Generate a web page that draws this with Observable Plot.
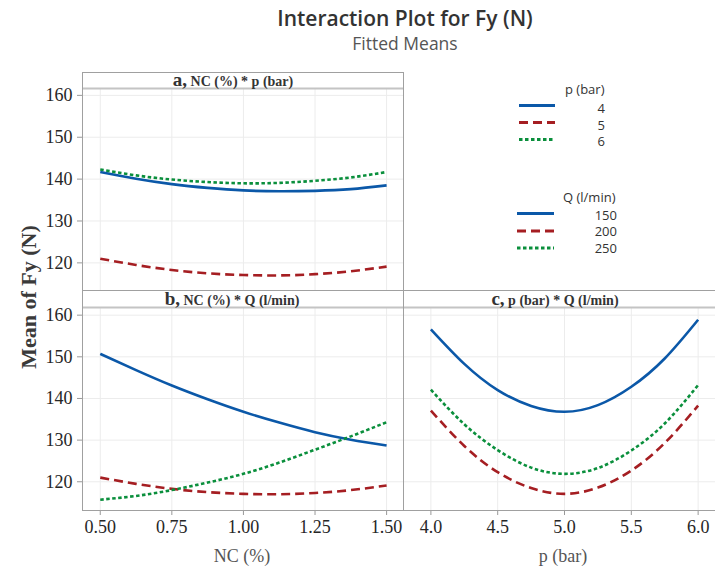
<!DOCTYPE html>
<html>
<head>
<meta charset="utf-8">
<script src="https://cdn.jsdelivr.net/npm/d3@7"></script>
<script src="https://cdn.jsdelivr.net/npm/@observablehq/plot@0.6"></script>
<style>
  html, body { margin: 0; padding: 0; background: #fff; }
  #chart { position: relative; width: 715px; height: 569px; overflow: hidden; background: #fff; }
  #chart svg { position: absolute; }
</style>
</head>
<body>
<div id="chart"></div>
<script>
// ---------------- data ----------------
const ncLevels = [0.5, 0.625, 0.75, 0.875, 1.0, 1.125, 1.25, 1.375, 1.5];
const pLevels  = [4.0, 4.25, 4.5, 4.75, 5.0, 5.25, 5.5, 5.75, 6.0];

// panel a: NC (%) * p (bar)
const a_p4 = [141.7, 140.1, 138.8, 137.9, 137.3, 137.1, 137.2, 137.6, 138.5];
const a_p5 = [121.0, 119.5, 118.3, 117.5, 117.1, 117.0, 117.3, 118.0, 119.1];
const a_p6 = [142.3, 140.9, 139.9, 139.3, 139.0, 139.1, 139.6, 140.4, 141.7];

// panel b: NC (%) * Q (l/min)
const b_q150 = [150.7, 146.8, 143.1, 139.8, 136.8, 134.2, 131.9, 130.1, 128.7];
const b_q200 = [121.0, 119.5, 118.3, 117.5, 117.1, 117.0, 117.3, 118.0, 119.1];
const b_q250 = [115.7, 116.6, 118.0, 119.8, 121.9, 124.6, 127.7, 130.9, 134.3];

// panel c: p (bar) * Q (l/min)
const c_q150 = [156.6, 148.3, 142.0, 138.2, 136.8, 138.4, 142.8, 149.6, 158.9];
const c_q200 = [137.1, 128.6, 122.3, 118.5, 117.1, 118.6, 122.7, 129.3, 138.3];
const c_q250 = [142.1, 133.8, 127.6, 123.4, 121.9, 123.3, 127.5, 134.0, 143.2];

const ncTicks = [0.5, 0.75, 1.0, 1.25, 1.5];
const pTicks  = [4.0, 4.5, 5.0, 5.5, 6.0];
const yTicks  = [120, 130, 140, 150, 160];

const pLegendTitle = "p (bar)";
const pLegendLabels = ["4", "5", "6"];
const qLegendTitle = "Q (l/min)";
const qLegendLabels = ["150", "200", "250"];

// ---------------- styles ----------------
const SERIF = "'Liberation Serif', 'Times New Roman', serif";
const SANS = "'Open Sans', 'Noto Sans', sans-serif";
const seriesStyles = [
  {color: "#0b58a8", dash: null},
  {color: "#a51e22", dash: "9,5"},
  {color: "#0a8f3c", dash: "3.5,2.5"}
];
const GRID = "#ececec";
const FRAME = "#a0a0a0";

const chart = document.getElementById("chart");

function lines(xs, seriesList) {
  return seriesList.map((vals, k) => Plot.line(
    xs.map((x, i) => ({x, y: vals[i]})),
    {x: "x", y: "y", stroke: seriesStyles[k].color, strokeWidth: 2.6,
     strokeDasharray: seriesStyles[k].dash, strokeLinecap: "butt", curve: "natural"}
  ));
}

const plotStyle = {fontFamily: SERIF, fontSize: "18px", color: "#262626", background: "none", overflow: "visible"};

function place(svg, left, top) {
  svg.style.left = left + "px";
  svg.style.top = top + "px";
  chart.appendChild(svg);
}

// Panel a
const pa = Plot.plot({
  width: 404, height: 218, marginLeft: 82, marginRight: 1, marginTop: 17, marginBottom: 0,
  x: {domain: [0.438, 1.559], axis: null},
  y: {domain: [113.4, 161.4], axis: null},
  style: plotStyle,
  marks: [
    Plot.gridX(ncTicks, {stroke: GRID, strokeOpacity: 1}),
    Plot.gridY(yTicks, {stroke: GRID, strokeOpacity: 1}),
    Plot.axisY(yTicks, {tickSize: 5, tickPadding: 5, label: null, stroke: "#999"}),
    ...lines(ncLevels, [a_p4, a_p5, a_p6])
  ]
});
place(pa, 0, 72);

// Panel b
const pb = Plot.plot({
  width: 404, height: 278, marginLeft: 82, marginRight: 1, marginTop: 17, marginBottom: 59,
  x: {domain: [0.438, 1.559], axis: null},
  y: {domain: [113.1, 161.6], axis: null},
  style: plotStyle,
  marks: [
    Plot.gridX(ncTicks, {stroke: GRID, strokeOpacity: 1}),
    Plot.gridY(yTicks, {stroke: GRID, strokeOpacity: 1}),
    Plot.axisY(yTicks, {tickSize: 5, tickPadding: 5, label: null, stroke: "#999"}),
    Plot.axisX(ncTicks, {tickSize: 5, tickPadding: 5, label: null, stroke: "#999", tickFormat: d3.format(".2f")}),
    ...lines(ncLevels, [b_q150, b_q200, b_q250])
  ]
});
place(pb, 0, 291);

// Panel c
const pc = Plot.plot({
  width: 312, height: 278, marginLeft: 0, marginRight: 0, marginTop: 17, marginBottom: 59,
  x: {domain: [3.795, 6.13], axis: null},
  y: {domain: [113.1, 161.6], axis: null},
  style: plotStyle,
  marks: [
    Plot.gridX(pTicks, {stroke: GRID, strokeOpacity: 1}),
    Plot.gridY(yTicks, {stroke: GRID, strokeOpacity: 1}),
    Plot.axisX(pTicks, {tickSize: 5, tickPadding: 5, label: null, stroke: "#999", tickFormat: d3.format(".1f")}),
    ...lines(pLevels, [c_q150, c_q200, c_q250])
  ]
});
place(pc, 403, 291);

// ---------------- overlay: frames, strips, titles, legend ----------------
const ov = d3.create("svg").attr("width", 715).attr("height", 569)
  .style("left", "0px").style("top", "0px").style("pointer-events", "none");

function hline(x1, x2, y, stroke, w) {
  ov.append("line").attr("x1", x1).attr("x2", x2).attr("y1", y).attr("y2", y)
    .attr("stroke", stroke).attr("stroke-width", w);
}
function vline(x, y1, y2, stroke, w) {
  ov.append("line").attr("x1", x).attr("x2", x).attr("y1", y1).attr("y2", y2)
    .attr("stroke", stroke).attr("stroke-width", w);
}
// frames
vline(82.5, 72, 510.5, FRAME, 1);
vline(403.5, 72, 510.5, FRAME, 1);
hline(82, 404, 72.5, FRAME, 1);
hline(82, 715, 290.5, FRAME, 1);
hline(82, 715, 510.5, FRAME, 1);
// strip bottoms
hline(83, 403, 88.5, "#c4c4c4", 2);
hline(83, 403, 307.5, "#c4c4c4", 2);
hline(404, 715, 307.5, "#c4c4c4", 2);

function strip(cx, y, letter, rest) {
  const t = ov.append("text").attr("x", cx).attr("y", y).attr("text-anchor", "middle")
    .attr("font-family", SERIF).attr("font-weight", "bold").attr("fill", "#333");
  t.append("tspan").attr("font-size", 19).text(letter);
  t.append("tspan").attr("font-size", 14).text(" " + rest);
}
strip(233, 86, "a,", "NC (%) * p (bar)");
strip(232, 305, "b,", "NC (%) * Q (l/min)");
strip(555, 305, "c,", "p (bar) * Q (l/min)");

// titles
ov.append("text").attr("x", 405).attr("y", 26).attr("text-anchor", "middle")
  .attr("font-family", SANS).attr("font-weight", 600).attr("font-size", 21).attr("fill", "#333")
  .text("Interaction Plot for Fy (N)");
ov.append("text").attr("x", 405).attr("y", 50).attr("text-anchor", "middle")
  .attr("font-family", SANS).attr("font-size", 17.5).attr("fill", "#555")
  .text("Fitted Means");

// axis labels
ov.append("text").attr("transform", "translate(36,297) rotate(-90)").attr("text-anchor", "middle")
  .attr("font-family", SERIF).attr("font-weight", "bold").attr("font-size", 22).attr("fill", "#3a3a3a")
  .text("Mean of Fy (N)");
ov.append("text").attr("x", 242).attr("y", 562).attr("text-anchor", "middle")
  .attr("font-family", SERIF).attr("font-size", 18).attr("fill", "#555").text("NC (%)");
ov.append("text").attr("x", 563).attr("y", 562).attr("text-anchor", "middle")
  .attr("font-family", SERIF).attr("font-size", 18).attr("fill", "#555").text("p (bar)");

// legends
function legend(title, labels, titleX, rightX, lineX1, lineX2, titleY, rowYs, labelYs) {
  ov.append("text").attr("x", titleX).attr("y", titleY).attr("font-family", SANS)
    .attr("font-size", 13).attr("fill", "#333").text(title);
  labels.forEach((lab, i) => {
    const s = seriesStyles[i];
    ov.append("line").attr("x1", lineX1).attr("x2", lineX2).attr("y1", rowYs[i]).attr("y2", rowYs[i])
      .attr("stroke", s.color).attr("stroke-width", 3).attr("stroke-dasharray", s.dash || null);
    ov.append("text").attr("x", rightX).attr("y", labelYs[i]).attr("text-anchor", "end")
      .attr("font-family", SANS).attr("font-size", 13).attr("fill", "#333").text(lab);
  });
}
legend(pLegendTitle, pLegendLabels, 565, 605, 519, 555, 93.5, [105.5, 122.5, 139.5], [113, 129.5, 146]);
legend(qLegendTitle, qLegendLabels, 563, 617, 517, 554, 202, [213.5, 231, 248], [219.5, 236, 252.5]);

chart.appendChild(ov.node());
</script>
</body>
</html>
